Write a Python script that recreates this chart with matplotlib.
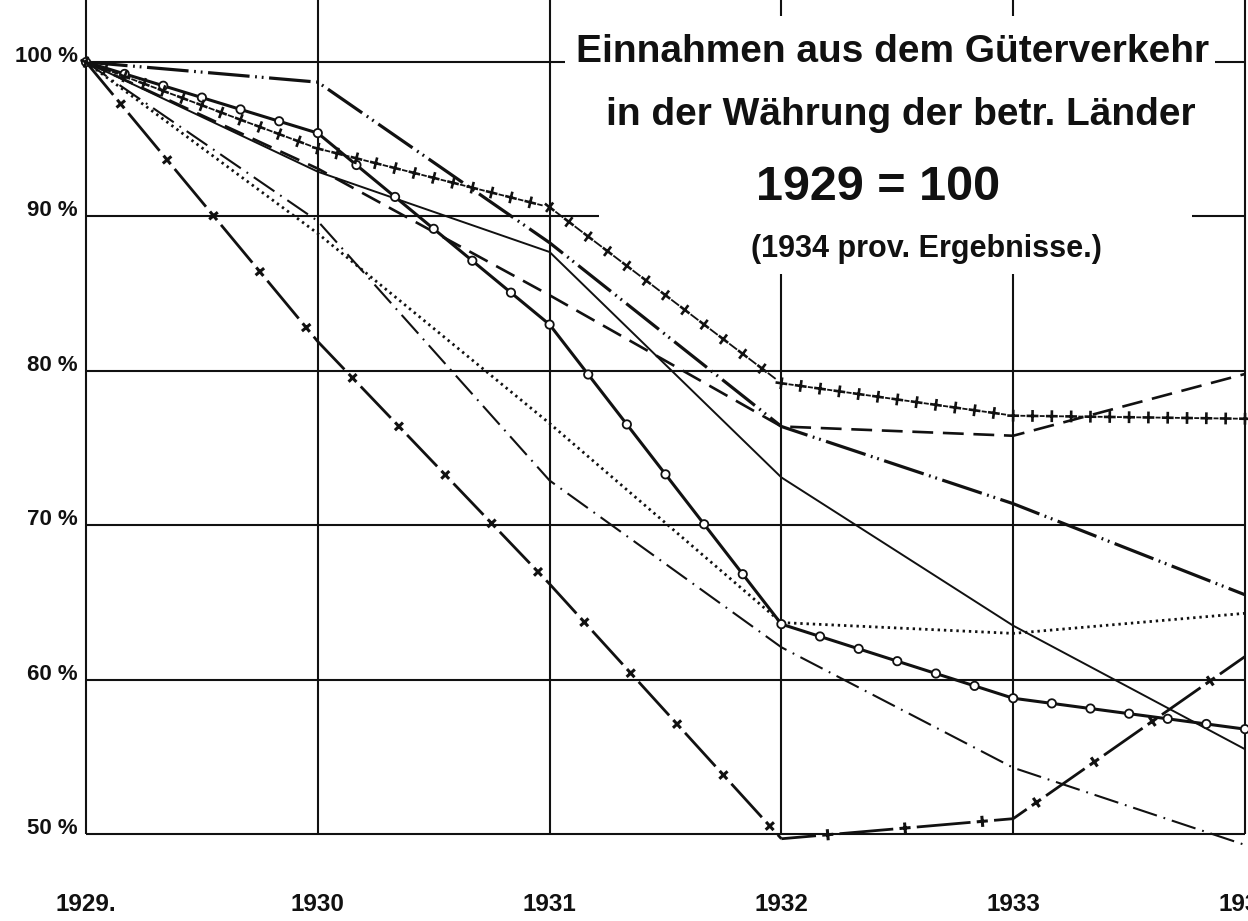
import numpy as np
import matplotlib
matplotlib.use("Agg")
import matplotlib.pyplot as plt
from matplotlib import patheffects
from matplotlib.path import Path
from matplotlib.transforms import Affine2D

plt.rcParams['lines.scale_dashes'] = False

# revenue from goods traffic, 1929 = 100
years = [1929, 1930, 1931, 1932, 1933, 1934]
year_labels = ["1929.", "1930", "1931", "1932", "1933", "1934"]
pct_ticks = [50, 60, 70, 80, 90, 100]
pct_labels = ["50 %", "60 %", "70 %", "80 %", "90 %", "100 %"]

dashdotdot = [100, 98.7, 88.3, 76.4, 71.4, 65.5]
plus_line = [100, 94.4, 90.6, 79.2, 77.1, 76.9]
circles = [100, 95.4, 83.0, 63.6, 58.8, 56.8]
thin_solid = [100, 92.9, 87.7, 73.1, 63.5, 55.5]
dashed = [100, 93.1, 84.9, 76.4, 75.8, 79.8]
dotted = [100, 88.9, 76.6, 63.7, 63.0, 64.3]
dashdot = [100, 89.7, 72.9, 62.1, 54.3, 49.3]
crosses = [100, 81.9, 66.2, 49.7, 51.0, 61.5]

INK = "#111111"

PLUS = Path([(-1, 0), (1, 0), (0, -1), (0, 1)],
            [Path.MOVETO, Path.LINETO, Path.MOVETO, Path.LINETO])
RING = Path.unit_circle()


class Strewn(patheffects.AbstractPathEffect):
    # marks set along each segment of a line, n to a segment, turned with it;
    # the line itself is drawn here too, broken by `gap` points round each mark
    def __init__(self, mark, n, size, lw=1.3, gap=0.0, phase=0.0, ends=False, fill=None):
        super().__init__()
        self.mark, self.n, self.size, self.lw = mark, n, size, lw
        self.gap, self.phase, self.ends, self.fill = gap, phase, ends, fill

    def draw_path(self, renderer, gc, tpath, affine, rgbFace=None):
        pts = affine.transform(tpath.vertices)
        px = renderer.points_to_pixels(1.0)
        d = np.diff(pts, axis=0)
        seg = np.hypot(d[:, 0], d[:, 1])
        cum = np.concatenate([[0.0], np.cumsum(seg)])
        spots = []
        ang = 0.0
        for i in range(len(seg)):
            ang = np.arctan2(d[i, 1], d[i, 0])
            for k in range(self.n):
                t = (k + self.phase) / self.n
                spots.append((cum[i] + t * seg[i], ang))
        if self.ends:
            spots.append((cum[-1], ang))

        def at(s):
            i = int(min(max(np.searchsorted(cum, s, side='right') - 1, 0), len(seg) - 1))
            t = (s - cum[i]) / seg[i] if seg[i] else 0.0
            return pts[i] + t * d[i]

        g = self.gap * px
        a = 0.0
        cuts = [(s - g, s + g) for s, _ in spots] + [(cum[-1], cum[-1])]
        for lo, hi in cuts:
            if lo > a:
                inner = [pts[j] for j in range(len(pts)) if a < cum[j] < lo]
                verts = np.array([at(a)] + inner + [at(lo)])
                renderer.draw_path(gc, Path(verts), Affine2D())
            a = max(a, hi)

        gc0 = renderer.new_gc()
        gc0.copy_properties(gc)
        gc0.set_dashes(0, None)
        gc0.set_linewidth(self.lw)
        for s, a in spots:
            x, y = at(s)
            tr = Affine2D().scale(self.size * px / 2).rotate(a).translate(x, y)
            renderer.draw_path(gc0, self.mark, tr, self.fill)
        gc0.restore()


fig = plt.figure(figsize=(12.48, 9.21), dpi=100)
ax = fig.add_axes([86 / 1248, 56 / 921, 1162 / 1248, 865 / 921])
ax.set_xlim(1929, 1934.013)
ax.set_ylim(48.0, 104.02)
for s in ax.spines.values():
    s.set_visible(False)

# grid, drawn by hand since it is broken by the title block
grid = dict(color=INK, lw=1.5, clip_on=False, zorder=1)
for v in [50, 60, 70, 80]:
    ax.hlines(v, 1929, 1934, **grid)
ax.hlines(100, 1929, 1931.065, **grid)
ax.hlines(100, 1933.87, 1934, **grid)
ax.hlines(90, 1929, 1931.215, **grid)
ax.hlines(90, 1933.77, 1934, **grid)
for yr in [1929, 1930, 1931, 1934]:
    ax.vlines(yr, 50, 104.02, **grid)
for yr in [1932, 1933]:
    ax.vlines(yr, 50, 86.3, **grid)
    ax.vlines(yr, 103.0, 104.02, **grid)

lk = dict(color=INK, clip_on=False, zorder=3, solid_capstyle='butt')
ax.plot(years, thin_solid, lw=1.4, **lk)
ax.plot(years, dashed, lw=1.9, ls=(0, (15, 7)), **lk)
ax.plot(years, dashdotdot, lw=2.3, ls=(0, (30, 4, 1.3, 3.5, 1.3, 4)), **lk)
ax.plot(years, dashdot, lw=1.5, ls=(0, (18, 5, 1.3, 5)), **lk)
ax.plot(years, dotted, lw=2.0, ls=(0, (1.7, 2.8)), **lk)
ax.plot(years, circles, lw=2.2, **lk,
        path_effects=[Strewn(RING, 6, 6.0, lw=1.3, ends=True, fill=(1, 1, 1, 1))])
ax.plot(years, plus_line, lw=1.3, **lk,
        path_effects=[Strewn(PLUS, 12, 8.5, lw=1.9, gap=5.2, ends=True)])
ax.plot(years[:4], crosses[:4], lw=2.0, **lk,
        path_effects=[Strewn(PLUS, 5, 8.0, lw=2.2, gap=8.5, phase=0.75)])
ax.plot(years[3:5], crosses[3:5], lw=2.0, **lk,
        path_effects=[Strewn(PLUS, 3, 8.0, lw=2.2, gap=8.5, phase=0.6)])
ax.plot(years[4:], crosses[4:], lw=2.0, **lk,
        path_effects=[Strewn(PLUS, 4, 8.0, lw=2.2, gap=8.5, phase=0.4)])

ax.set_xticks(years, year_labels)
ax.set_yticks(pct_ticks, pct_labels)
ax.tick_params(length=0)
ax.tick_params(axis='x', pad=20)
ax.tick_params(axis='y', pad=6)
for t in ax.get_xticklabels():
    t.set_fontfamily(['Liberation Sans Narrow', 'Liberation Sans', 'DejaVu Sans'])
    t.set_fontweight('bold')
    t.set_fontsize(17.5)
    t.set_color(INK)
for t in ax.get_yticklabels():
    t.set_fontfamily(['Liberation Sans', 'DejaVu Sans'])
    t.set_fontweight('bold')
    t.set_fontsize(16)
    t.set_va('baseline')
    t.set_color(INK)

tk = dict(family=['Liberation Sans', 'DejaVu Sans'], weight='bold', color=INK,
          ha='center', va='baseline')
fig.text(893 / 1248, 1 - 62 / 921, "Einnahmen aus dem Güterverkehr", fontsize=28, **tk)
fig.text(901 / 1248, 1 - 125 / 921, "in der Währung der betr. Länder", fontsize=28, **tk)
fig.text(878 / 1248, 1 - 200 / 921, "1929 = 100", fontsize=35, **tk)
fig.text(926 / 1248, 1 - 257 / 921, "(1934 prov. Ergebnisse.)", fontsize=22, **tk)

fig.savefig("out.png", dpi=100, facecolor='white')
